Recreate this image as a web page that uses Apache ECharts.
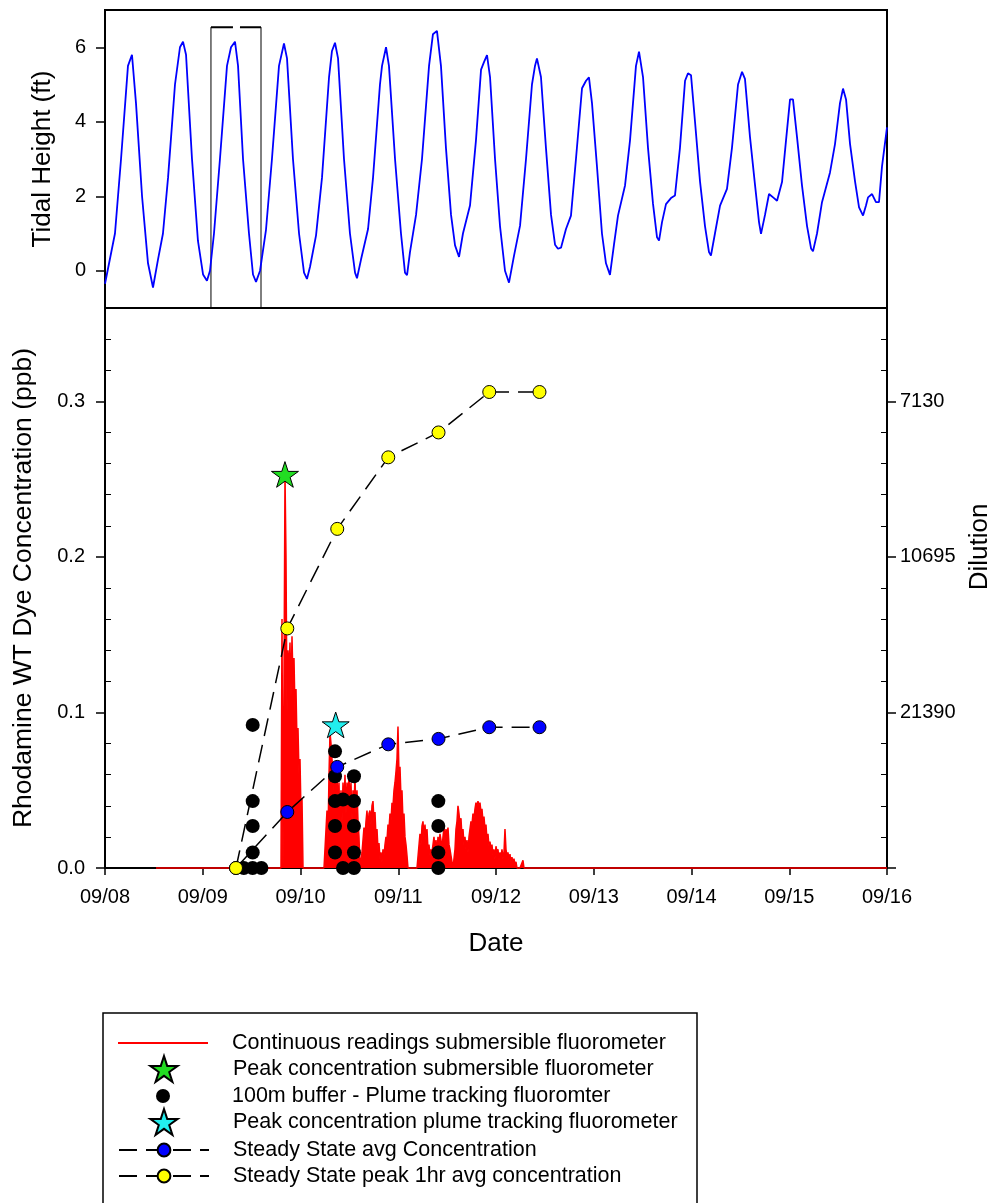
<!DOCTYPE html>
<html><head><meta charset="utf-8">
<script src="https://cdn.jsdelivr.net/npm/echarts@6/dist/echarts.min.js"></script>
<style>html,body{margin:0;padding:0;background:#fff}#c{width:997px;height:1203px}</style>
</head><body><div id="c"></div>
<script>
// ---------- tick labels ----------
const dateLabels = ['09/08','09/09','09/10','09/11','09/12','09/13','09/14','09/15','09/16'];
const tideTicks = [0, 2, 4, 6];
const concTicks = [0, 0.1, 0.2, 0.3];
const concMinorTicks = [0.02,0.04,0.06,0.08,0.12,0.14,0.16,0.18,0.22,0.24,0.26,0.28,0.32,0.34];
const dilutionTicks = [0.1, 0.2, 0.3];
const dilutionLabels = ['21390', '10695', '7130'];

// ---------- tide (day since 09/08 00:00, ft) ----------
const tide = [[0.000,-0.35],[0.102,1.0],[0.164,3.0],[0.235,5.5],[0.276,5.8],[0.317,4.5],[0.379,2.0],[0.440,0.2],[0.491,-0.45],[0.542,0.3],[0.593,1.0],[0.645,2.5],[0.716,5.0],[0.767,6.0],[0.798,6.15],[0.829,5.8],[0.890,3.0],[0.951,0.8],[1.003,-0.1],[1.043,-0.27],[1.074,0.0],[1.115,1.0],[1.176,3.0],[1.248,5.5],[1.289,6.0],[1.330,6.15],[1.361,5.5],[1.412,3.0],[1.473,1.0],[1.514,-0.1],[1.545,-0.3],[1.586,0.0],[1.647,1.1],[1.708,3.0],[1.780,5.5],[1.831,6.1],[1.862,5.7],[1.923,3.0],[1.985,1.0],[2.036,-0.05],[2.066,-0.22],[2.097,0.1],[2.159,0.95],[2.220,2.5],[2.292,5.2],[2.322,5.9],[2.353,6.12],[2.384,5.7],[2.445,3.0],[2.506,1.0],[2.558,-0.05],[2.578,-0.2],[2.619,0.3],[2.691,1.12],[2.742,2.5],[2.813,5.0],[2.834,5.5],[2.875,6.0],[2.905,5.5],[2.967,3.0],[3.028,1.0],[3.069,-0.05],[3.090,-0.12],[3.120,0.5],[3.182,1.5],[3.243,3.0],[3.315,5.5],[3.355,6.35],[3.396,6.44],[3.437,5.5],[3.488,3.3],[3.540,1.5],[3.581,0.68],[3.622,0.37],[3.662,1.0],[3.734,1.75],[3.795,3.5],[3.847,5.4],[3.877,5.6],[3.908,5.79],[3.939,5.2],[3.990,3.0],[4.041,1.2],[4.092,0.0],[4.133,-0.32],[4.184,0.4],[4.246,1.21],[4.307,3.0],[4.368,5.0],[4.399,5.5],[4.419,5.7],[4.460,5.2],[4.511,3.3],[4.563,1.5],[4.604,0.7],[4.634,0.59],[4.665,0.62],[4.716,1.12],[4.767,1.48],[4.818,3.0],[4.880,4.9],[4.921,5.1],[4.951,5.19],[4.982,4.5],[5.033,2.8],[5.084,1.0],[5.125,0.2],[5.166,-0.11],[5.207,0.7],[5.248,1.48],[5.320,2.29],[5.371,3.5],[5.432,5.5],[5.463,5.88],[5.504,5.2],[5.555,3.3],[5.606,1.8],[5.647,0.9],[5.668,0.81],[5.698,1.3],[5.739,1.79],[5.790,1.95],[5.831,2.02],[5.882,3.3],[5.934,5.1],[5.964,5.3],[5.995,5.25],[6.036,4.0],[6.087,2.4],[6.138,1.2],[6.179,0.5],[6.199,0.41],[6.240,1.0],[6.292,1.75],[6.363,2.2],[6.414,3.3],[6.476,5.0],[6.517,5.34],[6.547,5.15],[6.598,3.6],[6.650,2.3],[6.691,1.3],[6.711,0.99],[6.752,1.5],[6.793,2.06],[6.844,1.95],[6.875,1.88],[6.926,2.38],[6.967,3.5],[7.008,4.6],[7.038,4.6],[7.079,3.6],[7.130,2.3],[7.182,1.2],[7.223,0.6],[7.243,0.52],[7.284,1.0],[7.335,1.84],[7.417,2.64],[7.468,3.4],[7.519,4.5],[7.550,4.89],[7.581,4.6],[7.622,3.4],[7.673,2.4],[7.714,1.7],[7.755,1.48],[7.785,1.75],[7.806,1.97],[7.847,2.06],[7.887,1.84],[7.918,1.84],[7.949,2.8],[8.000,3.85]];
const boxDays = [1.084, 1.596];
const boxTopFt = 6.54;

// ---------- continuous submersible fluorometer readings (ppb) ----------
const redFirstDay = 0.522;       // logger start (reads 0)
const redBurstStartDay = 1.8005; // first reading of the listed block
const redIntervalMin = 14.73;    // logging interval (minutes)
const redLastDay = 8.0;
const redPpb = [
0,0.16,0,0.12,0.253,0.20,0.10,0.14,0.125,0.145,0.11,0.149,0.12,0.135,0.10,0.115,0.08,0.09,0.06,0.07,0.035,0.045,0,
0,0,0,0,0,0,0,0,0,0,0,0,0,0,0,0,0,0,0,0,0,0,0,
0.037,0.02,0.06,0.087,0.08,0.07,0.062,0.05,0.058,0.045,0.06,0.04,0.055,0.025,0.05,0.03,0.055,0.04,0.06,0.035,0.055,0.045,0.06,0.04,0.055,0.03,0.05,0.04,0.058,0.035,0.05,0.03,0.02,
0,0,
0.01,0.018,0.026,0.02,0.03,0.037,0.025,0.035,0.037,0.028,0.04,0.043,0.03,0.036,0.02,0.025,0.012,0.016,0.006,0.01,0.004,0.012,0.008,
0.015,0.02,0.018,0.028,0.025,0.035,0.03,0.042,0.04,0.05,0.055,0.062,0.07,0.091,0.06,0.065,0.045,0.05,0.03,0.035,0.02,0.015,0.008,
0,0,0,0,0,0,0,0,0,0,0,0,
0.022,0.015,0.027,0.03,0.02,0.028,0.018,0.025,0.012,0.015,0.008,0.012,0.01,0.015,0.02,0.012,0.018,0.01,0.02,0.015,0.022,0.018,0.012,0.02,0.026,0.018,0.025,0.02,0.026,0.015,0.012,0.008,0.004,
0,0,
0.012,0.025,0.03,0.04,0.035,0.028,0.032,0.02,0.025,0.015,0.02,0.012,0.018,0.01,0.02,0.025,0.03,0.028,0.035,0.032,0.038,0.042,0.04,0.043,0.04,0.042,0.036,0.038,0.03,0.033,0.025,0.028,0.018,0.022,0.014,0.017,0.012,0.015,0.008,0.012,0.006,0.014,0.01,0.012,0.005,0.01,0.007,0.012,0.006,0.01,0.025,0.012,0.008,0.01,0.005,0.009,0.004,0.007,0.003,0.006,0.002,0.004,
0,0,0,0,0,0,0.005,0
];

// ---------- plume tracking fluorometer, 100 m buffer ----------
const bufferDays = [1.511,1.511,1.511,1.511,1.42,1.51,1.60,
  2.353,2.353,2.353,2.353,2.353,2.435,2.435,2.547,2.547,2.547,2.547,2.547,
  3.410,3.410,3.410,3.410];
const bufferPpb = [0.092,0.043,0.027,0.010,0,0,0,
  0.075,0.059,0.043,0.027,0.010,0.044,0,0.059,0.043,0.027,0.010,0,
  0.043,0.027,0.010,0];

// ---------- peaks ----------
const peakSubDay = [1.841];   const peakSubPpb = [0.253];
const peakPlumeDay = [2.360]; const peakPlumePpb = [0.092];

// ---------- steady state ----------
const ssDays = [1.340,1.865,2.376,2.898,3.412,3.931,4.445];
const ssAvgPpb = [0,0.036,0.065,0.0795,0.083,0.0905,0.0905];
const ssPeakPpb = [0,0.154,0.218,0.264,0.280,0.306,0.306];

// ---------- names ----------
const N_RED = 'Continuous readings submersible fluorometer';
const N_GREEN = 'Peak concentration submersible fluorometer';
const N_BLACK = '100m buffer - Plume tracking fluoromter';
const N_CYAN = 'Peak concentration plume tracking fluorometer';
const N_BLUE = 'Steady State avg Concentration';
const N_YELLOW = 'Steady State peak 1hr avg concentration';

const zip = (a, b) => a.map((v, i) => [v, b[i]]);
const redData = [[redFirstDay, 0]]
  .concat(redPpb.map((v, i) => [redBurstStartDay + i * redIntervalMin / 1440, v]))
  .concat([[redLastDay, 0]]);

const FONT = 'Liberation Sans, Arial, sans-serif';
const TICK_FS = 20, TITLE_FS = 26, LEGEND_FS = 21.5;
const STAR_PATH = 'M50,0 L61.2,34.5 L97.6,34.5 L68.2,55.9 L79.4,90.5 L50,69.1 L20.6,90.5 L31.8,55.9 L2.4,34.5 L38.8,34.5 Z';
const STAR = 'path://' + STAR_PATH;
// legend icons: invisible corner points give the icon a 90-px-wide box so the mark sits centred
const STAR_ICON = 'path://M-106.7,0 M206.7,90.5 ' + STAR_PATH;
const DOT_ICON = 'path://M-38,0 M52,14 M0,7 A7,7 0 1,1 14,7 A7,7 0 1,1 0,7 Z';
const LINE_ICON = 'path://M0,0 L90,0 L90,2 L0,2 Z';

const chart = echarts.init(document.getElementById('c'), null, {renderer: 'canvas'});

const rows = [1043, 1068, 1096, 1121, 1150, 1176];
function mkLegend(item, i, h) {
  return {
    data: [item], orient: 'vertical', left: 118, top: rows[i] - Math.max(h, 24) / 2, padding: 0,
    itemWidth: 90, itemHeight: h, selectedMode: false, symbolKeepAspect: false,
    textStyle: {fontFamily: FONT, fontSize: LEGEND_FS, color: '#000', lineHeight: 24, padding: [0, 0, 0, 19]}
  };
}
const tickLabel = extra => Object.assign({fontSize: TICK_FS, color: '#000', fontFamily: FONT}, extra);
const titleStyle = {fontSize: TITLE_FS, color: '#000', fontFamily: FONT};

const option = {
  animation: false,
  backgroundColor: '#fff',
  textStyle: {fontFamily: FONT},
  grid: [
    {left: 105, top: 10, width: 782, height: 298, show: true, borderColor: '#000', borderWidth: 2,
     containLabel: false, outerBoundsMode: 'none'},
    {left: 105, top: 308, width: 782, height: 560, show: true, borderColor: '#000', borderWidth: 2,
     containLabel: false, outerBoundsMode: 'none'}
  ],
  xAxis: [
    {gridIndex: 0, type: 'value', min: 0, max: 8, interval: 1,
     axisLine: {show: false}, axisTick: {show: false}, axisLabel: {show: false}, splitLine: {show: false}},
    {gridIndex: 1, type: 'value', min: 0, max: 8, interval: 1,
     axisLine: {show: false},
     axisTick: {show: true, length: 7, lineStyle: {color: '#000', width: 1.5}},
     axisLabel: tickLabel({formatter: v => dateLabels[Math.round(v)], margin: 19}),
     splitLine: {show: false},
     name: 'Date', nameLocation: 'middle', nameGap: 63, nameTextStyle: titleStyle}
  ],
  yAxis: [
    {gridIndex: 0, type: 'value', min: -1, max: 7, position: 'left',
     axisLine: {show: false},
     axisTick: {show: true, length: 9, customValues: tideTicks, lineStyle: {color: '#000', width: 1.5}},
     axisLabel: tickLabel({customValues: tideTicks, margin: 19}),
     splitLine: {show: false},
     name: 'Tidal Height (ft)', nameLocation: 'middle', nameGap: 49, nameTextStyle: titleStyle},
    {gridIndex: 1, type: 'value', min: 0, max: 0.36, position: 'left',
     axisLine: {show: false},
     axisTick: {show: true, length: 9, customValues: concTicks, lineStyle: {color: '#000', width: 1.5}},
     axisLabel: tickLabel({customValues: concTicks, formatter: v => v.toFixed(1), margin: 20}),
     splitLine: {show: false},
     name: 'Rhodamine WT Dye Concentration (ppb)', nameLocation: 'middle', nameGap: 68,
     nameTextStyle: Object.assign({}, titleStyle, {fontSize: 26.5})},
    {gridIndex: 1, type: 'value', min: 0, max: 0.36, position: 'right',
     axisLine: {show: false},
     axisTick: {show: true, length: 9, customValues: concTicks, lineStyle: {color: '#000', width: 1.5}},
     axisLabel: tickLabel({customValues: dilutionTicks,
       formatter: v => dilutionLabels[dilutionTicks.findIndex(t => Math.abs(t - v) < 1e-6)] || '', margin: 13}),
     splitLine: {show: false},
     name: 'Dilution', nameLocation: 'middle', nameGap: 79, nameRotate: 90,
     nameTextStyle: Object.assign({}, titleStyle, {padding: [0, 0, 0, 82]})},
    {gridIndex: 1, type: 'value', min: 0, max: 0.36, position: 'left', offset: 0,
     axisLine: {show: false}, axisLabel: {show: false}, splitLine: {show: false},
     axisTick: {show: true, inside: true, length: 6, customValues: concMinorTicks, lineStyle: {color: '#000', width: 1}}},
    {gridIndex: 1, type: 'value', min: 0, max: 0.36, position: 'right', offset: 0,
     axisLine: {show: false}, axisLabel: {show: false}, splitLine: {show: false},
     axisTick: {show: true, inside: true, length: 6, customValues: concMinorTicks, lineStyle: {color: '#000', width: 1}}}
  ],
  legend: [
    mkLegend({name: N_RED, icon: LINE_ICON}, 0, 2),
    mkLegend({name: N_GREEN, icon: STAR_ICON}, 1, 26),
    mkLegend({name: N_BLACK, icon: DOT_ICON}, 2, 14),
    mkLegend({name: N_CYAN, icon: STAR_ICON}, 3, 26),
    mkLegend({name: N_BLUE}, 4, 16),
    mkLegend({name: N_YELLOW}, 5, 16)
  ],
  graphic: [
    {type: 'rect', shape: {x: 103, y: 1013, width: 594, height: 220},
     style: {fill: 'none', stroke: '#000', lineWidth: 1.5}, silent: true, z: 0}
  ],
  series: [
    {type: 'line', xAxisIndex: 0, yAxisIndex: 0, data: tide, symbol: 'none',
     lineStyle: {color: '#0000ff', width: 1.8}, itemStyle: {color: '#0000ff'}, z: 3},
    {type: 'line', xAxisIndex: 0, yAxisIndex: 0, data: [[boxDays[0], -1], [boxDays[0], boxTopFt]],
     symbol: 'none', lineStyle: {color: '#000', width: 1}, z: 2, clip: false},
    {type: 'line', xAxisIndex: 0, yAxisIndex: 0, data: [[boxDays[1], -1], [boxDays[1], boxTopFt]],
     symbol: 'none', lineStyle: {color: '#000', width: 1}, z: 2, clip: false},
    {type: 'line', xAxisIndex: 0, yAxisIndex: 0, data: [[boxDays[0], boxTopFt], [boxDays[1], boxTopFt]],
     symbol: 'none', lineStyle: {color: '#000', width: 2, type: [22, 7]}, z: 2, clip: false},

    {name: N_RED, type: 'line', xAxisIndex: 1, yAxisIndex: 1, data: redData, symbol: 'none',
     lineStyle: {color: '#ff0000', width: 1.5}, areaStyle: {color: '#ff0000', opacity: 1},
     itemStyle: {color: '#ff0000'}, clip: false, z: 2},
    {name: N_BLACK, type: 'scatter', xAxisIndex: 1, yAxisIndex: 1, data: zip(bufferDays, bufferPpb),
     symbol: 'circle', symbolSize: 14, itemStyle: {color: '#000', opacity: 1}, clip: false, z: 3},
    {name: N_BLUE, type: 'line', xAxisIndex: 1, yAxisIndex: 1, data: zip(ssDays, ssAvgPpb),
     symbol: 'circle', symbolSize: 13, showAllSymbol: true,
     lineStyle: {color: '#000', width: 1.5, type: [18, 9]},
     itemStyle: {color: '#0000ff', borderColor: '#000', borderWidth: 1, opacity: 1}, clip: false, z: 4},
    {name: N_YELLOW, type: 'line', xAxisIndex: 1, yAxisIndex: 1, data: zip(ssDays, ssPeakPpb),
     symbol: 'circle', symbolSize: 13, showAllSymbol: true,
     lineStyle: {color: '#000', width: 1.5, type: [18, 9]},
     itemStyle: {color: '#ffff00', borderColor: '#000', borderWidth: 1, opacity: 1}, clip: false, z: 5},
    {name: N_GREEN, type: 'scatter', xAxisIndex: 1, yAxisIndex: 1, data: zip(peakSubDay, peakSubPpb),
     symbol: STAR, symbolSize: 27, symbolKeepAspect: true,
     itemStyle: {color: '#22dd22', borderColor: '#000', borderWidth: 1, opacity: 1}, clip: false, z: 6},
    {name: N_CYAN, type: 'scatter', xAxisIndex: 1, yAxisIndex: 1, data: zip(peakPlumeDay, peakPlumePpb),
     symbol: STAR, symbolSize: 27, symbolKeepAspect: true,
     itemStyle: {color: '#22eeee', borderColor: '#000', borderWidth: 1, opacity: 1}, clip: false, z: 6}
  ]
};
chart.setOption(option);
</script>
</body></html>
